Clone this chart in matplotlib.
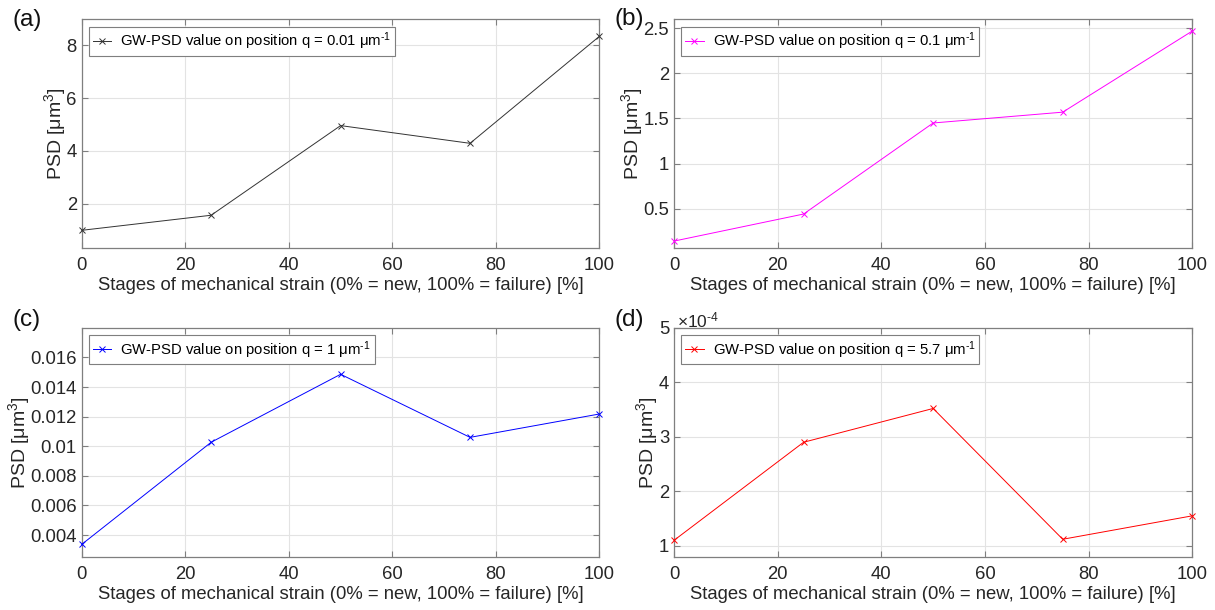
import matplotlib
matplotlib.use("Agg")
import matplotlib.pyplot as plt
from matplotlib.ticker import ScalarFormatter, FixedLocator

plt.rcParams['font.family'] = ['Liberation Sans', 'DejaVu Sans']
plt.rcParams['mathtext.fontset'] = 'custom'
plt.rcParams['mathtext.rm'] = 'Liberation Sans'
plt.rcParams['mathtext.it'] = 'Liberation Sans:italic'
plt.rcParams['mathtext.default'] = 'regular'

stages = [0, 25, 50, 75, 100]
psd_q001 = [1.0, 1.57, 4.96, 4.29, 8.34]
psd_q01 = [0.14, 0.44, 1.45, 1.57, 2.47]
psd_q1 = [0.00337, 0.01027, 0.01486, 0.0106, 0.01218]
psd_q57 = [1.10e-4, 2.90e-4, 3.52e-4, 1.12e-4, 1.55e-4]

HY = '\u2010'
labels = ['GW-PSD value on position q = 0.01 μm$^{' + HY + '1}$',
          'GW-PSD value on position q = 0.1 μm$^{' + HY + '1}$',
          'GW-PSD value on position q = 1 μm$^{' + HY + '1}$',
          'GW-PSD value on position q = 5.7 μm$^{' + HY + '1}$']
panel_tags = ['(a)', '(b)', '(c)', '(d)']
colors = ['#333333', '#ff00ff', '#0000ff', '#ff0000']
ylims = [(0.32, 8.98), (0.06, 2.6), (0.00254, 0.018), (0.8e-4, 5e-4)]
yticks = [[2, 4, 6, 8], [0.5, 1, 1.5, 2, 2.5],
          [0.004, 0.006, 0.008, 0.01, 0.012, 0.014, 0.016],
          [1e-4, 2e-4, 3e-4, 4e-4, 5e-4]]
xticks = [0, 20, 40, 60, 80, 100]
xlabel = 'Stages of mechanical strain (0% = new, 100% = failure) [%]'
ylabel = 'PSD [μm$^3$]'
series = [psd_q001, psd_q01, psd_q1, psd_q57]

W, H = 1215, 610
fig = plt.figure(figsize=(W / 100, H / 100), dpi=100)
boxes = [(81.7, 599.5, 19.3, 248.3), (674.0, 1192.3, 19.3, 248.3),
         (81.7, 599.5, 327.8, 556.7), (674.0, 1192.3, 327.8, 556.7)]
tag_pos = [(13, 20), (615, 19), (13, 320), (615, 320)]
tick_col = '#262626'
for i, (l, r, t, b) in enumerate(boxes):
    ax = fig.add_axes([l / W, (H - b) / H, (r - l) / W, (b - t) / H])
    ax.plot(stages, series[i], color=colors[i], lw=0.7, marker='x', ms=4,
            mew=0.7, label=labels[i], clip_on=False, zorder=3)
    ax.set_xlim(0, 100)
    ax.set_ylim(*ylims[i])
    ax.set_xticks(xticks)
    ax.yaxis.set_major_locator(FixedLocator(yticks[i]))
    if i == 3:
        fmt = ScalarFormatter(useMathText=False)
        fmt.set_powerlimits((-3, 3))
        ax.yaxis.set_major_formatter(fmt)
        ax.yaxis.get_offset_text().set_visible(False)
        fig.text(677 / W, 1 - 320 / H, '×10$^{' + HY + '4}$', fontsize=12.5,
                 color=tick_col, ha='left', va='center')
    else:
        ax.set_yticklabels([('%g' % v) for v in yticks[i]])
    ax.grid(True, color='#e3e3e3', lw=0.8)
    ax.set_axisbelow(True)
    for s in ax.spines.values():
        s.set_color('#7f7f7f')
        s.set_linewidth(0.9)
    ax.tick_params(direction='in', length=4, width=0.8, colors='#7f7f7f',
                   labelcolor=tick_col, labelsize=13.3, top=True, right=True)
    ax.tick_params(axis='x', pad=6.5)
    ax.set_xlabel(xlabel, fontsize=13.3, color=tick_col, labelpad=2)
    ax.set_ylabel(ylabel, fontsize=14, color=tick_col, labelpad=-1)
    leg = ax.legend(loc='upper left', fontsize=10.7, handlelength=1.25,
                    handletextpad=0.6, borderpad=0.25, borderaxespad=0.5,
                    fancybox=False, framealpha=1)
    leg.get_frame().set_edgecolor('#7f7f7f')
    leg.get_frame().set_linewidth(0.8)
    tx, ty = tag_pos[i]
    fig.text(tx / W, 1 - ty / H, panel_tags[i], fontsize=17.5,
             color='#111111', ha='left', va='center')

fig.savefig('out.png', dpi=100)
